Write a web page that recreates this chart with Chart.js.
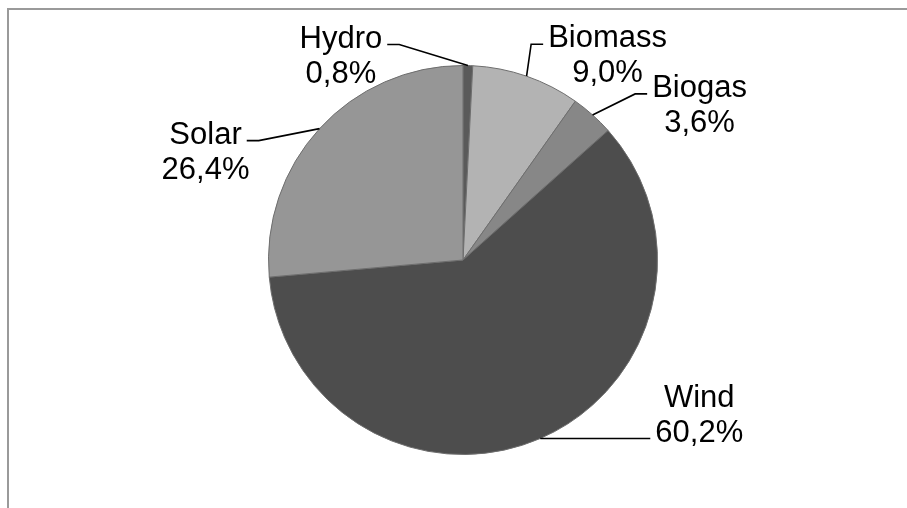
<!DOCTYPE html>
<html>
<head>
<meta charset="utf-8">
<script src="https://cdn.jsdelivr.net/npm/chart.js@4/dist/chart.umd.min.js"></script>
<style>
  html, body { margin: 0; padding: 0; background: #fff; }
  canvas { display: block; }
</style>
</head>
<body>
<canvas id="myChart" width="907" height="508"></canvas>
<script>
// categories and shares (%)
var labels = ['Hydro', 'Biomass', 'Biogas', 'Wind', 'Solar'];
var shares = [0.8, 9.0, 3.6, 60.2, 26.4];
var colors = ['#5a5a5a', '#b3b3b3', '#878787', '#4d4d4d', '#969696'];

// where each label sits relative to its slice's outer mid point
// [dx, dy of text centre / first baseline, row the leader joins]
var labelPlace = [
    [-127, -18, 0],
    [81, -29, 0],
    [107, -18, 0],
    [159, -32, 1],
    [-114, 15, 0]
];

var FONT_SIZE = 31;
var LINE_H = 35;

function pct(v) {
    return v.toFixed(1).replace('.', ',') + '%';
}

// grey frame, only top and left edges fall inside the picture
var framePlugin = {
    id: 'frame',
    beforeDraw: function (chart) {
        var c = chart.ctx;
        c.save();
        c.fillStyle = '#fff';
        c.fillRect(0, 0, chart.width, chart.height);
        c.strokeStyle = '#9a9a9a';
        c.lineWidth = 2;
        c.strokeRect(8, 9, chart.width + 20, chart.height + 20);
        c.restore();
    }
};

// outside labels with leader lines
var labelPlugin = {
    id: 'outsideLabels',
    afterDatasetsDraw: function (chart) {
        var c = chart.ctx;
        var meta = chart.getDatasetMeta(0);
        c.save();
        c.font = FONT_SIZE + 'px "Liberation Sans", Arial, sans-serif';
        c.fillStyle = '#000';
        c.strokeStyle = '#000';
        c.lineWidth = 1.6;
        c.textAlign = 'center';
        c.textBaseline = 'alphabetic';
        meta.data.forEach(function (arc, i) {
            var p = arc.getProps(['x', 'y', 'startAngle', 'endAngle', 'outerRadius'], true);
            var mid = (p.startAngle + p.endAngle) / 2;
            var ax = p.x + Math.cos(mid) * p.outerRadius;
            var ay = p.y + Math.sin(mid) * p.outerRadius;
            var pl = labelPlace[i];
            var tx = ax + pl[0];
            var ty = ay + pl[1];
            var lines = [labels[i], pct(shares[i])];

            // leader
            var row = pl[2];
            var w = c.measureText(lines[row]).width;
            var jy = ty + row * LINE_H - 3;
            var jx, ex;
            if (tx < ax) {
                jx = tx + w / 2 + 5;
                ex = jx + 12;
            } else {
                jx = tx - w / 2 - 5;
                ex = jx - 12;
            }
            c.beginPath();
            c.moveTo(jx, jy);
            c.lineTo(ex, jy);
            c.lineTo(ax, ay);
            c.stroke();

            lines.forEach(function (t, k) {
                c.fillText(t, tx, ty + k * LINE_H);
            });
        });
        c.restore();
    }
};

var ctx = document.getElementById('myChart').getContext('2d');
var chart = new Chart(ctx, {
    type: 'pie',
    data: {
        labels: labels,
        datasets: [{
            data: shares,
            backgroundColor: colors,
            borderColor: '#6e6e6e',
            borderWidth: 1
        }]
    },
    options: {
        responsive: false,
        animation: false,
        layout: {
            padding: { top: 65, bottom: 53, left: 100, right: 81 }
        },
        plugins: {
            legend: { display: false },
            tooltip: { enabled: false }
        }
    },
    plugins: [framePlugin, labelPlugin]
});
</script>
</body>
</html>
